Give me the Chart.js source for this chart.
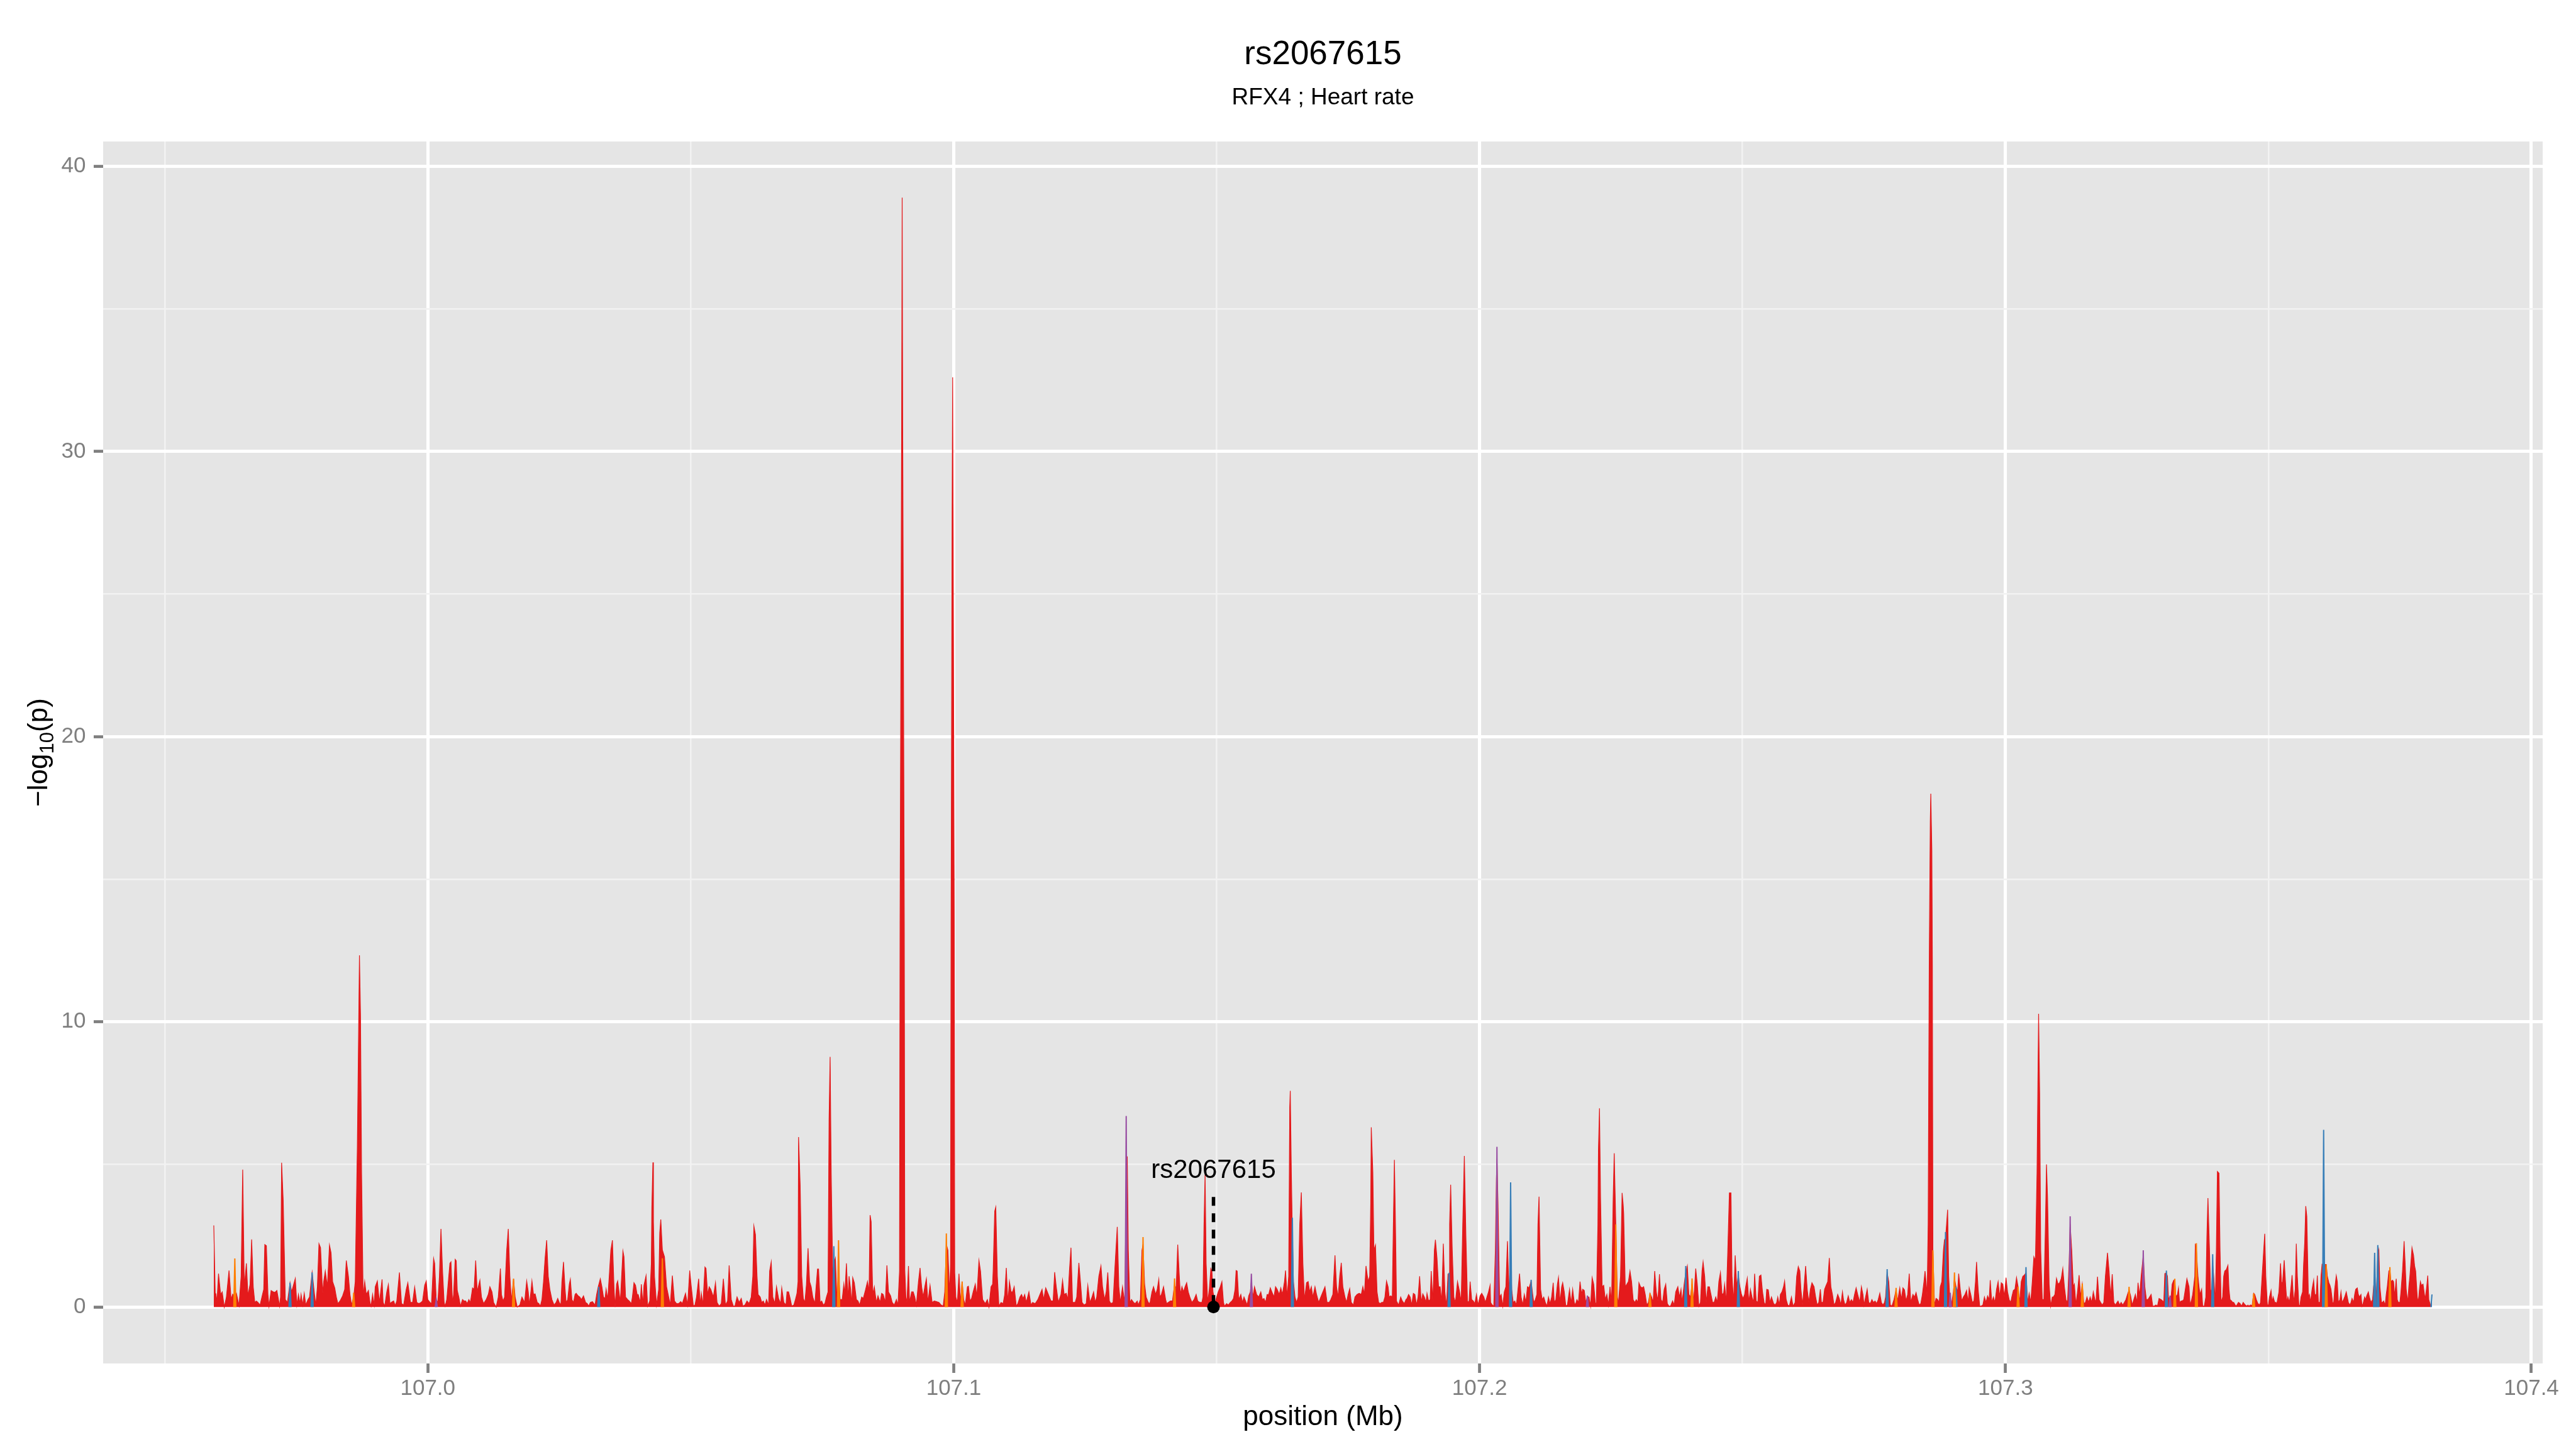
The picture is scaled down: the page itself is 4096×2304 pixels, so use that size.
<!DOCTYPE html>
<html>
<head>
<meta charset="utf-8">
<title>rs2067615 - RFX4 ; Heart rate</title>
<script src="https://cdn.jsdelivr.net/npm/chart.js@4.4.1/dist/chart.umd.min.js"></script>
<style>
  html, body { margin: 0; padding: 0; background: #ffffff; }
  canvas { display: block; }
</style>
</head>
<body>
<canvas id="chart" width="4096" height="2304"></canvas>
<script>
// -log10(p) by position (Mb), one block per stretch of the region
const regionA = [
[106.9593,2.86],[106.9596,0.26],[106.9597,0.48],[106.9599,0.16],[106.9602,1.17],[106.9606,0.44],[106.9609,0.53],[106.9613,0],[106.9617,0.35],[106.9622,1.28],
[106.9626,0.26],[106.9629,0.45],[106.9633,0.35],[106.9636,0.48],[106.9641,0.05],[106.9645,1.08],[106.9648,4.82],[106.9651,0.71],[106.9655,1.53],[106.9658,0.39],
[106.9662,0.8],[106.9665,2.37],[106.9668,0.71],[106.9671,0.16],[106.9674,0.21],[106.9677,0.16],[106.9681,0.07],[106.9685,0.39],[106.9688,0.62],[106.969,2.19],
[106.9693,2.15],[106.9696,0.44],[106.9698,0.03],[106.9702,0.58],[106.9706,0.53],[106.9709,0.51],[106.9713,0.58],[106.9716,0.26],[106.9718,0.03],[106.972,0.35],
[106.9722,5.06],[106.9725,3.73],[106.9729,0.26],[106.9733,0.16],[106.9738,0.85],[106.9741,0.53],[106.9745,0.8],[106.9748,1.0],[106.9751,0.07],[106.9754,0.44],
[106.9757,0.12],[106.9759,0.44],[106.9762,0.07],[106.9765,0.48],[106.9768,0.07],[106.9772,0.26],[106.9775,0.35],[106.978,1.21],[106.9784,0.53],[106.9787,0.05],
[106.979,0.71],[106.9793,2.22],[106.9796,2.08],[106.98,0.48],[106.9802,0.89],[106.9805,1.26],[106.9809,0.71],[106.9813,2.17],[106.9816,1.9],[106.9819,0.89],
[106.9823,0.67],[106.9826,0.35],[106.9829,0.12],[106.9833,0.21],[106.9838,0.39],[106.9842,0.62],[106.9845,1.63],[106.9849,1.08],[106.9852,0.44],[106.9855,0.07],
[106.9859,0.35],[106.9862,0.89],[106.9866,5.64],[106.9869,10.66],[106.987,12.33],[106.9872,10.21],[106.9874,4.73],[106.9877,0.35],[106.988,0.89],[106.9883,0.44],
[106.9887,0.58],[106.989,0.16],[106.9892,0.03],[106.9895,0.44],[106.9898,0.07],[106.99,0.71],[106.9904,0.91],[106.9908,0.16],[106.9913,0.97],[106.9915,0.16],
[106.9918,0.03],[106.9922,0.53],[106.9925,0.79],[106.9928,0.12],[106.9932,0.18],[106.9935,0.21],[106.9938,0.05],[106.9941,0.21],[106.9946,1.21],[106.995,0.12],
[106.9954,0.07],[106.9959,0.62],[106.9962,0.85],[106.9967,0.16],[106.9971,0.16],[106.9975,0.7],[106.9979,0.16],[106.9983,0.12],[106.9987,0.16],[106.999,0.21],
[106.9994,0.76],[106.9997,0.91],[107.0,0.26],[107.0004,0.16],[107.0007,0.12],[107.0011,1.7],[107.0013,1.53],[107.0016,0.26],[107.0019,0.16],[107.0022,1.07],
[107.0025,2.74],[107.0028,1.26],[107.0031,0.16],[107.0033,0.03],[107.0036,0.26],[107.0039,0.89],[107.0042,1.53],[107.0044,1.58],[107.0047,0.12],[107.0049,0.44],
[107.0052,1.67],[107.0054,1.62],[107.0056,0.58],[107.0059,0.35],[107.0062,0.03],[107.0066,0.26],[107.0069,0.21],[107.0072,0.21],[107.0075,0.12],[107.0078,0.26],
[107.0081,0.16],[107.0084,0.53],[107.0085,0.67],[107.0088,0.62],[107.0091,1.63],[107.0094,0.53],[107.0096,0.71],[107.0099,0.94],[107.0102,0.35],[107.0106,0.12],
[107.0111,0.26],[107.0115,0.44],[107.0118,0.71],[107.0122,0.53],[107.0125,0.16],[107.013,0],[107.0134,0.35],[107.0138,1.35],[107.014,0.44],[107.0143,0.21],
[107.0146,0.35],[107.015,1.99],[107.0153,2.74],[107.0156,1.08],[107.0159,0.21],[107.0163,0.99],[107.0166,0.35],[107.017,0],[107.0175,0.07],[107.0179,0.35],
[107.0184,0.16],[107.0188,0.91],[107.0191,0.53],[107.0193,0.07],[107.0196,0.53],[107.0198,0.91],[107.0201,0.44],[107.0204,0.46],[107.0208,0.16],[107.0211,0.12],
[107.0214,0.03],[107.0217,0.26],[107.022,0.89],[107.0223,1.72],[107.0226,2.34],[107.0229,1.08],[107.0232,0.62],[107.0236,0.26],[107.024,0.07],[107.0244,0.16],
[107.0247,0.3],[107.025,0.16],[107.0253,0.07],[107.0255,0.89],[107.0258,1.58],[107.0261,0.62],[107.0263,0.16],[107.0266,0.26],[107.0269,0.8],[107.0271,0.97],
[107.0274,0.26],[107.0277,0.16],[107.028,0.44],[107.0282,0.48],[107.0286,0.39],[107.0289,0.35],[107.0292,0.26],[107.0296,0.39],[107.03,0.16],[107.0303,0.12],
[107.0306,0.03]
];

const regionB = [
[107.0309,0.16],[107.0313,0.19],[107.0318,0.07],[107.0321,0.44],[107.0324,0.71],[107.0328,0.99],[107.0331,0.71],[107.0334,0.35],[107.0337,0.3],[107.0339,0.62],
[107.0342,0.26],[107.0345,1.08],[107.0348,1.99],[107.0351,2.34],[107.0354,0.71],[107.0356,0],[107.0359,0.8],[107.0361,0.91],[107.0363,0.62],[107.0366,0.16],
[107.0371,1.96],[107.0373,1.76],[107.0376,0.35],[107.038,0.26],[107.0383,0.21],[107.0387,0.12],[107.0389,0.35],[107.0392,0.85],[107.0395,0.76],[107.0398,0.44],
[107.04,0.44],[107.0404,0.16],[107.0406,0.8],[107.0409,0.07],[107.0411,0.76],[107.0415,1.1],[107.0418,0.03],[107.0422,0.21],[107.0425,1.53],[107.0426,3.5],
[107.0428,5.07],[107.0429,3.0],[107.0431,1.08],[107.0435,0.07],[107.0439,0.62],[107.0441,2.6],[107.0443,3.07],[107.0446,2.0],[107.045,1.76],[107.0454,0.71],
[107.0458,0.35],[107.0461,0.07],[107.0465,1.1],[107.0469,0.21],[107.0473,0.12],[107.0477,0.12],[107.0481,0.19],[107.0484,0.12],[107.049,0.48],[107.0494,0.07],
[107.0498,1.28],[107.0501,0.71],[107.0505,0.03],[107.0508,0.07],[107.0511,0.35],[107.0515,0.99],[107.0518,0.07],[107.052,0.48],[107.0523,0.07],[107.0527,1.4],
[107.0529,1.35],[107.0532,0.44],[107.0535,0.71],[107.0538,0.62],[107.0543,0.35],[107.0547,0.85],[107.055,0.16],[107.0554,0.03],[107.0558,0.12],[107.0562,0.99],
[107.0566,0.07],[107.057,0.21],[107.0573,1.46],[107.0577,0.26],[107.0581,0.03],[107.0584,0.03],[107.0588,0.35],[107.0592,0.16],[107.0596,0.3],[107.0599,0.03],
[107.0603,0.07],[107.0607,0.21],[107.0611,0.12],[107.0615,0.35],[107.0618,1.08],[107.062,2.84],[107.0623,2.54],[107.0626,1.08],[107.0628,0.44],[107.0632,0.35],
[107.0635,0.16],[107.0638,0.21],[107.0641,0.07],[107.0644,0.26],[107.0648,0.07],[107.065,1.26],[107.0653,1.58],[107.0656,0.35],[107.066,0.12],[107.0663,0.71],
[107.0667,0.3],[107.0671,0.12],[107.0673,0.67],[107.0677,0.16],[107.0681,0.07],[107.0683,0.53],[107.0686,0.53],[107.0689,0.3],[107.0692,0.03],[107.0696,0.07],
[107.0699,0.26],[107.0702,0.48],[107.0704,0.89],[107.0705,5.96],[107.0708,4.28],[107.0711,1.08],[107.0714,0.3],[107.0717,0.16],[107.072,0.8],[107.0723,2.06],
[107.0726,0.89],[107.0729,0.71],[107.0732,0.35],[107.0736,0.12],[107.0738,0.62],[107.0741,1.33],[107.0743,1.33],[107.0746,0.16],[107.0749,0.21],[107.0752,0.07],
[107.0755,0.12],[107.0758,0.35],[107.0761,0.53],[107.0763,6.56],[107.0765,8.77],[107.0767,4.73],[107.077,1.08],[107.0772,1.5],[107.0775,1.71],[107.0778,0.26],
[107.0781,1.2],[107.0784,0.26],[107.0788,0.26],[107.0791,0.8],[107.0793,0.44],[107.0796,1.53],[107.0799,0.26],[107.0801,1.08],[107.0804,0.62],[107.0806,0.03],
[107.0808,1.03],[107.0811,0.85],[107.0815,0.26],[107.0818,0.21],[107.0821,0.07],[107.0825,0.35],[107.0828,0.3],[107.0832,0.58],[107.0836,0.89],[107.0839,0.53],
[107.0841,3.22],[107.0843,2.99],[107.0846,0.44],[107.0849,0.71],[107.0853,0.16],[107.0856,0.39],[107.086,0.16],[107.0863,0.48],[107.0866,0.44],[107.087,0.16],
[107.0873,1.46],[107.0876,0.53],[107.088,0.39],[107.0883,0.16],[107.0887,0.07],[107.0891,0.26],[107.0894,0.07],[107.0897,1.26],[107.0898,13.5],[107.0901,31],
[107.0902,38.9],[107.0903,31],[107.0906,13.5],[107.0907,1.3],[107.0909,0.35],[107.0911,0.16],[107.0914,1.44],[107.0916,0.16],[107.092,0.53],[107.0923,0.53],
[107.0926,0.35],[107.0929,0.07],[107.0933,0.89],[107.0936,1.37],[107.0939,0.71],[107.0942,0.35],[107.0945,0.71],[107.0948,0.99],[107.0951,0.16],[107.0955,0.76],
[107.0959,0.16],[107.0963,0.21],[107.0967,0.19],[107.0972,0.16],[107.0976,0.07],[107.098,0.03],[107.0983,0.53],[107.0986,2.2],[107.0989,1.99],[107.0992,0.44],
[107.0994,1.5],[107.0995,13.5],[107.0997,28],[107.0998,32.6],[107.0999,27],[107.1001,13.5],[107.1002,1.2],[107.1004,0.35],[107.1007,0.16],[107.101,1.17],
[107.1013,0.16],[107.1016,0.89],[107.1019,0.26],[107.1022,0.07],[107.1026,0.71],[107.1028,0.73],[107.1031,0.21],[107.1034,0.3],[107.1037,0.53],[107.1041,0.8],
[107.1044,0.35],[107.1048,1.63],[107.1051,1.26],[107.1055,0.26],[107.106,0.12],[107.1064,0.26],[107.1067,0],[107.1071,0.71],[107.1074,0.8]
];

const regionC = [
[107.1075,1.26],[107.1078,3.36],[107.108,3.5],[107.1083,1.08],[107.1086,0.03],[107.109,0.16],[107.1094,0.12],[107.1097,0.44],[107.11,1.37],[107.1103,0.16],
[107.1106,0.89],[107.1109,0.53],[107.1112,0.53],[107.1115,0.71],[107.1119,0.03],[107.1122,0.12],[107.1126,0.35],[107.1129,0.44],[107.1132,0.3],[107.1135,0.44],
[107.1138,0.16],[107.1143,0.53],[107.1147,0.07],[107.115,0.16],[107.1155,0.12],[107.116,0.26],[107.1164,0.44],[107.1168,0.62],[107.1171,0.26],[107.1175,0.67],
[107.118,0.44],[107.1185,0.21],[107.1189,0.21],[107.1192,1.22],[107.1195,0.71],[107.1199,0.16],[107.1204,0.44],[107.1207,0.94],[107.121,0.44],[107.1214,0.48],
[107.1217,0.26],[107.122,1.26],[107.1223,2.08],[107.1226,0.16],[107.1231,0.16],[107.1234,0.35],[107.1238,1.55],[107.1241,0.89],[107.1244,0.16],[107.1248,0.07],
[107.1252,0.12],[107.1255,0.76],[107.1259,0.16],[107.1263,0.35],[107.1266,0.53],[107.1269,0.16],[107.1272,0.35],[107.1276,1.08],[107.128,1.44],[107.1283,0.71],
[107.1287,0.26],[107.129,0.53],[107.1293,1.21],[107.1296,0.21],[107.1299,0.12],[107.1303,0.16],[107.1307,1.53],[107.1311,2.81],[107.1314,0.71],[107.1317,0.16],
[107.1321,0.71],[107.1325,0.16],[107.1326,1.0],[107.1328,4.8],[107.133,5.28],[107.1332,1.99],[107.1335,0.16],[107.1338,0.26],[107.1342,0.16],[107.1345,0.12],
[107.1349,0.21],[107.1351,0.07],[107.1355,0.26],[107.1358,1.99],[107.136,2.2],[107.1363,0.8],[107.1366,0.35],[107.137,0.16],[107.1373,0.12],[107.1377,0.53],
[107.138,0.71],[107.1384,0.44],[107.1387,0.62],[107.139,0.97],[107.1392,0.35],[107.1395,0.44],[107.1399,0.71],[107.1403,0.26],[107.1405,0.12],[107.1408,0.16],
[107.1412,0.21],[107.1416,0.21],[107.142,0.8],[107.1423,0.62],[107.1426,2.19],[107.1429,1.08],[107.1431,0.44],[107.1434,0.71],[107.1437,0.53],[107.144,0.71],
[107.1443,0.85],[107.1446,0.53],[107.1449,0.35],[107.1453,0.16],[107.1457,0.26],[107.1461,0.44],[107.1464,0.21],[107.1468,0.16],[107.1472,0.16],[107.1474,0.35],
[107.1476,2.9],[107.1478,4.64],[107.148,1.53],[107.1483,0.16],[107.1486,0.62],[107.1489,1.35],[107.1491,1.26],[107.1493,0.53],[107.1497,0.16],[107.15,0.35],
[107.1503,0.53],[107.1507,0.71],[107.151,0.89],[107.1513,0.16],[107.1515,0.03],[107.1519,0.12],[107.1522,0.07],[107.1526,0.16],[107.1529,0.21],[107.1532,0.3],
[107.1535,0.62],[107.1537,1.28],[107.1539,1.26],[107.1542,0.26],[107.1546,0.44],[107.1549,0.16],[107.1552,0.35],[107.1554,0.26],[107.1558,0.07],[107.1561,0.39],
[107.1564,0.53],[107.1566,0.9],[107.1569,0.35],[107.1572,0.71],[107.1576,0.44],[107.158,0.35],[107.1584,0.53],[107.1587,0.26],[107.159,0.3],[107.1593,0.16],
[107.1596,0.44],[107.1599,0.44],[107.1602,0.67],[107.1605,0.53],[107.1609,0.35],[107.1612,0.71],[107.1615,0.62],[107.1619,0.44],[107.1622,0.67],[107.1625,0.44],
[107.1629,0.89],[107.1631,1.28],[107.1634,0.35],[107.1637,1.08],[107.1639,7.0],[107.164,7.58],[107.1642,4.73],[107.1644,2.5],[107.1646,0.89],[107.1649,0.35],
[107.1652,0.16],[107.1655,0.35],[107.1658,2.9],[107.1661,4.02],[107.1664,1.53],[107.1667,0.26],[107.1671,0.85],[107.1674,0.89],[107.1677,0.53],[107.168,0.71],
[107.1683,0.35],[107.1687,0.71],[107.169,0.44],[107.1694,0.16],[107.1698,0.35],[107.1702,0.53],[107.1706,0.71],[107.171,0.16],[107.1714,0.16],[107.1717,0.26],
[107.1721,0.44],[107.1725,1.81],[107.1728,0.71],[107.1731,0.35],[107.1734,1.08],[107.1737,1.55],[107.174,0.71],[107.1744,0.35],[107.1747,0.16],[107.175,0.44],
[107.1753,0.64],[107.1756,0.16],[107.176,0.07],[107.1763,0.35],[107.1767,0.44],[107.1771,0.48],[107.1775,0.44],[107.1778,0.71],[107.1781,0.44],[107.1784,1.44],
[107.1788,0.89],[107.1791,1.08],[107.1793,3.64],[107.1794,6.3],[107.1797,4.73],[107.1799,1.99],[107.1802,2.17]
];

const regionD = [
[107.1805,0.53],[107.1808,0.16],[107.1811,0.12],[107.1814,0.16],[107.1817,0.16],[107.182,0.35],[107.1823,0.91],[107.1826,0.71],[107.1828,0.35],[107.1831,0.39],
[107.1834,0.35],[107.1836,2.9],[107.1838,5.16],[107.184,2.9],[107.1842,0.21],[107.1846,0.07],[107.185,0.35],[107.1853,0.21],[107.1857,0.12],[107.186,0.26],
[107.1862,0.3],[107.1865,0.44],[107.1868,0.35],[107.1871,0.07],[107.1874,0.48],[107.1877,0.44],[107.188,0.07],[107.1883,0.35],[107.1886,1.08],[107.1889,0.16],
[107.1892,0.46],[107.1895,0.35],[107.1898,0.16],[107.19,0.48],[107.1903,0.21],[107.1906,0.26],[107.1908,1.26],[107.1911,0.16],[107.1914,1.99],[107.1916,2.36],
[107.1919,1.72],[107.1922,0.71],[107.1925,0.71],[107.1928,0.16],[107.1931,2.22],[107.1934,0.53],[107.1937,0.03],[107.194,1.17],[107.1942,0.9],[107.1943,2.9],
[107.1945,4.29],[107.1948,1.99],[107.1951,0.35],[107.1954,0.16],[107.1958,0.89],[107.1962,0.53],[107.1965,0.16],[107.1968,2.9],[107.1971,5.3],[107.1974,2.45],
[107.1977,0.16],[107.198,0.21],[107.1982,0.89],[107.1985,0.26],[107.1988,0.21],[107.1991,0.12],[107.1994,0.44],[107.1997,0.07],[107.2001,0.39],[107.2004,0.48],
[107.2008,0.35],[107.2011,0.16],[107.2014,0.35],[107.2017,0.53],[107.202,0.76],[107.2021,0.16],[107.2024,0.07],[107.2027,0.03],[107.203,1.99],[107.2032,4.5],
[107.2033,5.2],[107.2035,3.63],[107.2038,0.35],[107.2041,0.44],[107.2044,0.03],[107.2047,0.53],[107.205,0.71],[107.2053,2.31],[107.2056,0.44],[107.2059,2.0],
[107.2061,0.62],[107.2064,0.16],[107.2067,0.21],[107.207,0.07],[107.2073,0.62],[107.2076,1.17],[107.2079,0.35],[107.2082,0.07],[107.2085,0.44],[107.2088,0.16],
[107.2091,0.71],[107.2094,0.67],[107.2098,0.91],[107.2101,0.44],[107.2103,0.16],[107.2106,0.26],[107.2109,0.44],[107.2111,2.9],[107.2113,3.87],[107.2116,0.62],
[107.2119,0.26],[107.2122,0.35],[107.2125,0.16],[107.2128,0.03],[107.2131,0.35],[107.2134,0.12],[107.2137,0.35],[107.214,0.85],[107.2142,0.16],[107.2145,0.26],
[107.2148,0.8],[107.215,1.03],[107.2153,0.16],[107.2156,0.71],[107.2158,0.85],[107.2161,0.53],[107.2164,0.03],[107.2167,0.07],[107.2171,0.62],[107.2174,0.12],
[107.2177,0.62],[107.218,0.16],[107.2182,0.07],[107.2185,0.26],[107.2188,0.16],[107.2191,0.89],[107.2194,0.44],[107.2196,0.62],[107.2199,0.58],[107.2202,0.16],
[107.2205,0.35],[107.2208,0.35],[107.2211,0.03],[107.2214,1.03],[107.2217,0.8],[107.222,0.16],[107.2222,0.07],[107.2225,2.9],[107.2226,5.5],[107.2228,6.97],
[107.223,3.81],[107.2233,0.71],[107.2236,0.76],[107.2239,0.26],[107.2242,0.44],[107.2245,0.07],[107.2248,0.71],[107.2251,0.16],[107.2254,3.81],[107.2256,5.39],
[107.2259,2.9],[107.2262,0.35],[107.2264,0.12],[107.2268,1.08],[107.2271,4.0],[107.2273,3.6],[107.2274,3.27],[107.2277,0.71],[107.228,0.8],[107.2283,0.89],
[107.2286,1.26],[107.2289,0.89],[107.2292,0.26],[107.2295,0.16],[107.2298,0.26],[107.2301,0.16],[107.2303,0.85],[107.2306,0.71],[107.2309,0.67],[107.2312,0.71],
[107.2315,0.44],[107.2318,0.07],[107.2321,0.16],[107.2324,0.48],[107.2327,0.35],[107.233,0.16],[107.2333,1.26],[107.2336,0.53],[107.2339,0.21],[107.2342,1.15],
[107.2345,0.26],[107.2348,0.16],[107.2351,0.62],[107.2354,0.8],[107.2357,0.12],[107.236,0.03],[107.2363,0.03],[107.2367,0.21],[107.237,0.07],[107.2373,0.53],
[107.2377,0.71],[107.238,0.35],[107.2383,0.62],[107.2385,0.16],[107.2389,0.8],[107.2392,1.2],[107.2395,1.44],[107.2398,0.44],[107.2401,0.35],[107.2404,0.8],
[107.2407,0.16],[107.2411,1.35],[107.2414,0.8],[107.2417,0.03],[107.242,0.16],[107.2423,1.26],[107.2425,1.58],[107.2428,1.08],[107.2431,0.16],[107.2434,0.71],
[107.2437,0.71],[107.244,0.44],[107.2443,0.16],[107.2446,0.16],[107.2449,0.35],[107.2452,0.16],[107.2455,0.89],[107.2458,1.21],[107.2461,0.44],[107.2464,0.48],
[107.2466,0.8],[107.2469,0.16],[107.2472,1.99],[107.2475,4.0],[107.2478,4.0],[107.248,1.08],[107.2483,0.16],[107.2486,1.81],[107.2489,0.71],[107.2492,1.1],
[107.2495,0.71],[107.2498,0.44],[107.2501,0.3],[107.2504,0.44],[107.2506,0.71],[107.2509,1.01],[107.2512,0.16],[107.2515,0.62],[107.2518,0.35],[107.2521,0.16],
[107.2523,1.17],[107.2526,0.21],[107.2529,0.16],[107.2532,1.08],[107.2535,1.12],[107.2538,0.53],[107.2541,0.16]
];

const regionE = [
[107.2544,0.07],[107.2546,0.62],[107.2549,0.6],[107.2552,0.16],[107.2555,0.35],[107.2559,0.12],[107.2562,0.07],[107.2565,0.16],[107.2567,0.35],[107.257,0.07],
[107.2572,0.44],[107.2575,0.53],[107.2578,0.71],[107.258,0.91],[107.2583,0.26],[107.2586,0.07],[107.2589,0.03],[107.2593,0.35],[107.2596,0.03],[107.26,0.16],
[107.2603,1.08],[107.2606,1.42],[107.2609,1.26],[107.2611,0.62],[107.2614,0.07],[107.2617,0.71],[107.262,1.44],[107.2623,0.62],[107.2626,0.16],[107.2629,0.62],
[107.2632,0.85],[107.2636,0.71],[107.2639,0.35],[107.2642,0.07],[107.2645,0.16],[107.2648,0.62],[107.265,0.16],[107.2653,0.16],[107.2656,0.62],[107.2659,0.76],
[107.2662,0.89],[107.2665,1.72],[107.2668,0.71],[107.2671,0.44],[107.2674,0.07],[107.2677,0.16],[107.2681,0.44],[107.2684,0.3],[107.2687,0.07],[107.269,0.53],
[107.2692,0.26],[107.2695,0.07],[107.2698,0.16],[107.2701,0.39],[107.2704,0.16],[107.2707,0.26],[107.271,0.16],[107.2713,0.44],[107.2716,0.67],[107.2719,0.44],
[107.2723,0.16],[107.2726,0.71],[107.2729,0.44],[107.2731,0.07],[107.2734,0.35],[107.2737,0.62],[107.274,0.16],[107.2743,0.12],[107.2746,0.26],[107.2749,0.16],
[107.2752,0.21],[107.2755,0.12],[107.2758,0.26],[107.2761,0.48],[107.2764,0.16],[107.2767,0.07],[107.277,0.16],[107.2772,0.35],[107.2775,1.2],[107.2778,0.89],
[107.2781,0.07],[107.2784,0.03],[107.2788,0.26],[107.2792,0.6],[107.2795,0.21],[107.2799,0.67],[107.2802,0.26],[107.2805,0.67],[107.2808,0.6],[107.2811,0.21],
[107.2814,0.44],[107.2817,1.17],[107.282,0.16],[107.2824,0.44],[107.2827,0.35],[107.283,0.51],[107.2833,0.26],[107.2836,0.07],[107.2839,0.12],[107.2842,0.44],
[107.2845,0.89],[107.2847,1.26],[107.2849,0.89],[107.2851,0.35],[107.2853,2.9],[107.2855,12],[107.2857,17],[107.2858,18.0],[107.286,16],[107.2861,12],
[107.2862,2.0],[107.2865,0.07],[107.2868,0.3],[107.2871,0.26],[107.2874,0.16],[107.2876,0.71],[107.2879,0.89],[107.2882,1.99],[107.2884,2.36],[107.2886,2.4],
[107.2888,2.9],[107.289,3.41],[107.2892,1.08],[107.2895,0.03],[107.2898,0.16],[107.2901,0.53],[107.2903,1.0],[107.2906,0.71],[107.2909,0.53],[107.2911,1.17],
[107.2914,0.62],[107.2917,0.21],[107.292,0.35],[107.2923,0.44],[107.2926,0.58],[107.2929,0.16],[107.2931,0.67],[107.2934,0.44],[107.2937,0.16],[107.294,0.21],
[107.2943,0.89],[107.2945,1.58],[107.2948,0.62],[107.2951,0.03],[107.2954,0.03],[107.2957,0.07],[107.296,0.35],[107.2963,0.16],[107.2966,0.39],[107.2969,0.26],
[107.2971,0.94],[107.2974,0.16],[107.2977,0.35],[107.298,0.16],[107.2983,0.62],[107.2986,0.89],[107.2989,0.35],[107.2992,0.85],[107.2995,0.8],[107.2998,0.35],
[107.3001,1.03],[107.3004,0.53],[107.3007,0.26],[107.301,0.16],[107.3012,0.35],[107.3015,0.58],[107.3018,0.62],[107.3021,1.03],[107.3024,0.71],[107.3027,0.16],
[107.303,0.89],[107.3033,1.08],[107.3036,1.12],[107.3039,1.2],[107.3042,0.16],[107.3045,0.48],[107.3048,0.16],[107.3051,0.89],[107.3054,1.76],[107.3057,1.63],
[107.306,4.7],[107.3062,8.5],[107.3063,10.28],[107.3065,7.47],[107.3067,1.99],[107.307,0.26],[107.3073,0.26],[107.3076,2.9],[107.3078,5.0],[107.308,3.82],
[107.3083,0.8],[107.3086,0.03],[107.3089,0.35],[107.3091,0.35],[107.3094,0.44],[107.3097,1.0],[107.31,0.8],[107.3103,0.85],[107.3106,0.99],[107.3109,1.35],
[107.3112,0.71],[107.3115,0.26],[107.3118,0.16],[107.3121,1.53],[107.3123,2.9],[107.3126,1.99],[107.3129,0.71],[107.3131,0.8],[107.3134,0.07],[107.3137,0.53],
[107.314,1.12],[107.3143,0.35],[107.3146,0.8],[107.3149,0.12],[107.3152,0.16],[107.3155,0.35],[107.3158,0.16],[107.3161,0.35],[107.3164,0.16],[107.3167,0.53],
[107.317,0.26],[107.3172,0.16],[107.3175,1.06],[107.3178,0.26],[107.3181,0.16],[107.3184,0.07],[107.3187,0.16],[107.319,1.08],[107.3194,1.9],[107.3197,1.26],
[107.32,0.35],[107.3203,1.15],[107.3206,0.16],[107.3209,0.07],[107.3212,0.16],[107.3214,0.21],[107.3217,0.07],[107.322,0.16],[107.3223,0.07],[107.3226,0.16],
[107.3229,0.26],[107.3232,0.44],[107.3235,0.6],[107.3238,0.39],[107.3241,0.07],[107.3244,0.26],[107.3247,0.44],[107.325,0.16],[107.3252,0.85],[107.3255,0.39],
[107.3258,1.08],[107.3262,1.8],[107.3265,0.71],[107.3268,0.26],[107.3271,0.26],[107.3274,0.35],[107.3277,0.44]
];

const regionF = [
[107.328,0.03],[107.3283,0.03],[107.3286,0.07],[107.3289,0.03],[107.3292,0.3],[107.3296,0.26],[107.3299,0.21],[107.3301,0.16],[107.3303,1.17],[107.3306,1.2],
[107.3308,1.08],[107.331,0.3],[107.3313,0.35],[107.3315,0.39],[107.3317,0.8],[107.332,0.94],[107.3322,0.9],[107.3324,0.35],[107.3327,0.44],[107.3329,0.67],
[107.3331,0.16],[107.3334,0.21],[107.3336,0.21],[107.3339,0.26],[107.3342,0.62],[107.3345,0.99],[107.3349,0.71],[107.3351,0.07],[107.3354,0.26],[107.3356,0.44],
[107.336,1.08],[107.3361,2.22],[107.3363,2.0],[107.3366,1.08],[107.3368,0.71],[107.337,0.44],[107.3373,0.62],[107.3375,0.03],[107.3378,0.03],[107.3381,0.35],
[107.3383,2.45],[107.3385,3.82],[107.3388,1.99],[107.339,0.62],[107.3392,0.44],[107.3394,1.5],[107.3396,1.08],[107.3399,0.16],[107.3401,1.99],[107.3403,4.75],
[107.3406,4.69],[107.3408,1.99],[107.341,0.16],[107.3413,0.35],[107.3415,1.08],[107.3417,1.26],[107.342,1.31],[107.3423,1.46],[107.3425,0.62],[107.3427,0.26],
[107.343,0.21],[107.3432,0.16],[107.3434,0.16],[107.3438,0.03],[107.344,0.07],[107.3443,0.16],[107.3446,0.12],[107.3449,0.03],[107.3452,0.16],[107.3456,0.07],
[107.3459,0.03],[107.3461,0.07],[107.3463,0.03],[107.3466,0.07],[107.3469,0.05],[107.3472,0.48],[107.3474,0.44],[107.3477,0.26],[107.348,0.12],[107.3483,0.07],
[107.3485,0.16],[107.3488,1.08],[107.3491,1.99],[107.3493,2.57],[107.3495,1.08],[107.3498,0.07],[107.35,0.07],[107.3502,0.35],[107.3505,0.58],[107.3507,0.16],
[107.3509,0.35],[107.3512,0.16],[107.3514,0.16],[107.3516,0.12],[107.352,0.53],[107.3523,1.53],[107.3525,0.8],[107.3527,0.89],[107.353,1.64],[107.3533,0.71],
[107.3535,0.16],[107.3537,0.35],[107.354,0.16],[107.3543,0.71],[107.3545,1.12],[107.3548,0.16],[107.3551,0.62],[107.3553,2.22],[107.3555,1.08],[107.3558,0.03],
[107.356,0.07],[107.3562,0.35],[107.3565,0.53],[107.3567,1.53],[107.3569,2.26],[107.3571,3.54],[107.3573,3.18],[107.3576,0.35],[107.3578,0.44],[107.358,0.16],
[107.3583,0.62],[107.3586,0.94],[107.3588,0.44],[107.3591,0.44],[107.3593,1.1],[107.3595,0.16],[107.3598,0.16],[107.36,1.08],[107.3602,1.5],[107.3604,1.5],
[107.3605,1.2],[107.3608,1.49],[107.361,1.49],[107.3612,1.08],[107.3615,0.85],[107.3617,0.76],[107.3619,0.62],[107.3622,0.16],[107.3624,0.12],[107.3626,0.62],
[107.3629,1.1],[107.3631,0.89],[107.3633,0.16],[107.3636,0.26],[107.3638,0.53],[107.364,0.16],[107.3643,0.26],[107.3645,0.35],[107.3648,0.53],[107.365,0.35],
[107.3652,0.16],[107.3655,0.07],[107.3657,0.16],[107.3659,0.3],[107.3662,0.16],[107.3664,0.44],[107.3666,0.62],[107.3669,0.67],[107.3671,0.44],[107.3673,0.35],
[107.3676,0.44],[107.3678,0.03],[107.368,0.12],[107.3683,0.35],[107.3685,0.26],[107.3687,0.4],[107.369,0.53],[107.3692,0.35],[107.3695,0.16],[107.3698,0.26],
[107.37,0.71],[107.3702,1.0],[107.3705,0.35],[107.3708,1.8],[107.371,1.99],[107.3712,0.71],[107.3715,0.16],[107.3717,0.16],[107.3719,0.21],[107.3722,0.07],
[107.3724,0.44],[107.3726,0.71],[107.3729,1.26],[107.3731,1.3],[107.3733,0.89],[107.3736,0.94],[107.3738,0.89],[107.374,0.35],[107.3743,0.99],[107.3745,0.26],
[107.3747,0.16],[107.375,0.16],[107.3752,0.53],[107.3755,1.26],[107.3758,2.31],[107.376,1.53],[107.3762,0.62],[107.3765,0.16],[107.3767,0.71],[107.3769,1.08],
[107.3772,1.81],[107.3773,2.08],[107.3776,1.81],[107.3778,1.44],[107.378,1.26],[107.3783,0.35],[107.3785,0.16],[107.3787,0.58],[107.3789,0.89],[107.3791,0.76],
[107.3794,0.8],[107.3796,0.53],[107.3798,0.26],[107.3801,0.71],[107.3803,1.1],[107.3805,0.26],[107.3808,0.07],[107.3809,0]
];

// SNPs of the other colour groups that poke out of the red area
const bluePos = [106.9736,106.9738,106.974, 106.9778,106.978,106.9782, 107.0323,107.0325,107.0327, 107.077,107.0772,107.0774,
  107.1642,107.1644,107.1646, 107.194,107.1942,107.1944, 107.2057,107.2059,107.2061, 107.2096,107.2098,107.21,
  107.239,107.2392,107.2394, 107.249,107.2492,107.2494, 107.2773,107.2775,107.2777, 107.2884,107.2886,107.2888,
  107.2904,107.2906,107.2908, 107.3037,107.3039,107.3041, 107.3304,107.3306,107.3308, 107.3392,107.3394,107.3396,
  107.3603,107.3605,107.3607, 107.37,107.3702,107.3704, 107.3706,107.3708,107.371, 107.3809,107.3811];
const blueLogP = [0,0.85,0, 0,1.21,0, 0,0.71,0, 0,2.13,0,
  0,3.13,0, 0,1.2,0, 0,4.37,0, 0,0.95,0,
  0,1.44,0, 0,1.26,0, 0,1.33,0, 0,2.63,0,
  0,0.71,0, 0,1.4,0, 0,1.28,0, 0,1.85,0,
  0,6.21,0, 0,1.9,0, 0,2.17,0, 0,0.44];

const orangePos = [106.9631,106.9633,106.9635, 106.9857,106.9859,106.9861, 107.0161,107.0163,107.0165, 107.0444,107.0446,107.0448,
  107.0779,107.0781,107.0783, 107.0984,107.0986,107.0988, 107.1014,107.1016,107.1018, 107.1358,107.136,107.1362,
  107.1418,107.142,107.1422, 107.2257,107.2259,107.2261, 107.2322,107.2324,107.2326, 107.2402,107.2404,107.2406,
  107.279,107.2792,107.2794, 107.286,107.2862,107.2864, 107.2901,107.2903,107.2905, 107.3022,107.3024,107.3026,
  107.3144,107.3146,107.3148, 107.3233,107.3235,107.3237, 107.332,107.3322,107.3324, 107.3361,107.3363,107.3365,
  107.347,107.3472,107.3474, 107.3608,107.361,107.3612, 107.3729,107.3731,107.3733];
const orangeLogP = [0,1.7,0, 0,0.5,0, 0,0.99,0, 0,1.71,0,
  0,2.34,0, 0,2.58,0, 0,0.89,0, 0,2.45,0,
  0,1.0,0, 0,2.9,0, 0,0.48,0, 0,1.0,0,
  0,0.67,0, 0,1.99,0, 0,1.21,0, 0,0.71,0,
  0,0.82,0, 0,0.71,0, 0,0.99,0, 0,2.24,0,
  0,0.48,0, 0,1.49,0, 0,1.4,0];

const purplePos = [107.0014,107.0016,107.0018, 107.1326,107.1328,107.133, 107.1564,107.1566,107.1568,
  107.2031,107.2033,107.2035, 107.2203,107.2205,107.2207, 107.2893,107.2895,107.2897,
  107.3121,107.3123,107.3125, 107.326,107.3262,107.3264, 107.3311,107.3313,107.3315];
const purpleLogP = [0,0.26,0, 0,6.7,0, 0,1.17,0,
  0,5.62,0, 0,0.4,0, 0,0.5,0,
  0,3.18,0, 0,1.99,0, 0,0.4,0];

// lead SNP marker
const leadSnp = "rs2067615";
const leadPos = 107.1494;
const leadLineTop = 3.86;
const leadLabelY = 4.53;

const plotTitle = "rs2067615";
const plotSubtitle = "RFX4 ; Heart rate";
const xTitle = "position (Mb)";

const xMajorTicks = [107.0, 107.1, 107.2, 107.3, 107.4];
const xMinorTicks = [106.95, 107.05, 107.15, 107.25, 107.35];
const yMajorTicks = [0, 10, 20, 30, 40];
const yMinorTicks = [5, 15, 25, 35];

const FONT = '"Liberation Sans", Arial, Helvetica, sans-serif';
Chart.defaults.font.family = FONT;

const isIn = (list, v) => list.some(t => Math.abs(t - v) < 1e-6);
const toXY = (pos, vals) => pos.map((p, i) => ({ x: p, y: vals[i] }));
const redData = [regionA, regionB, regionC, regionD, regionE, regionF].flat().map(([x, y]) => ({ x, y }));

const area = (label, data, color, order, width) => ({
    label, data, order,
    borderColor: color,
    backgroundColor: color,
    borderWidth: width,
    pointRadius: 0,
    tension: 0,
    fill: "origin"
});

// spikes only: no outline along the baseline between them
const spikes = (label, data, color, order) => Object.assign(area(label, data, color, order, 2), {
    segment: {
        borderColor: c => (c.p0.parsed.y === 0 && c.p1.parsed.y === 0) ? "rgba(0,0,0,0)" : color
    }
});

const panelBackground = {
    id: "panelBackground",
    beforeDraw(chart) {
        const { ctx, chartArea: a } = chart;
        ctx.save();
        ctx.fillStyle = "#FFFFFF";
        ctx.fillRect(0, 0, chart.width, chart.height);
        ctx.fillStyle = "#E5E5E5";
        ctx.fillRect(a.left, a.top, a.right - a.left, a.bottom - a.top);
        ctx.restore();
    }
};

const textLayer = {
    id: "textLayer",
    afterDraw(chart) {
        const { ctx, chartArea: a, scales } = chart;
        const cx = (a.left + a.right) / 2;
        ctx.save();
        ctx.fillStyle = "#000000";
        ctx.textAlign = "center";
        ctx.textBaseline = "alphabetic";

        ctx.font = `53px ${FONT}`;
        ctx.fillText(plotTitle, cx, 102);
        ctx.font = `37px ${FONT}`;
        ctx.fillText(plotSubtitle, cx, 166);
        ctx.font = `44px ${FONT}`;
        ctx.fillText(xTitle, cx, 2266);

        // lead SNP label
        ctx.font = `42px ${FONT}`;
        ctx.fillText(leadSnp, scales.x.getPixelForValue(leadPos), scales.y.getPixelForValue(leadLabelY));

        // y title: -log10(p) with subscript
        ctx.translate(75, (a.top + a.bottom) / 2);
        ctx.rotate(-Math.PI / 2);
        ctx.textAlign = "left";
        const big = `44px ${FONT}`, small = `31px ${FONT}`;
        ctx.font = big;
        const w1 = ctx.measureText("\u2212log").width;
        const w3 = ctx.measureText("(p)").width;
        ctx.font = small;
        const w2 = ctx.measureText("10").width;
        const x0 = -(w1 + w2 + w3) / 2;
        ctx.font = big;
        ctx.fillText("\u2212log", x0, 0);
        ctx.font = small;
        ctx.fillText("10", x0 + w1, 10);
        ctx.font = big;
        ctx.fillText("(p)", x0 + w1 + w2, 0);
        ctx.restore();
    }
};

const gridFor = (major) => ({
    color: c => isIn(major, c.tick.value) ? "#FFFFFF" : "#F2F2F2",
    lineWidth: c => isIn(major, c.tick.value) ? 5.1 : 2.6,
    tickColor: c => isIn(major, c.tick.value) ? "#7F7F7F" : "rgba(0,0,0,0)",
    tickWidth: 4.7,
    tickLength: 15,
    drawTicks: true
});

new Chart(document.getElementById("chart").getContext("2d"), {
    type: "line",
    data: {
        datasets: [
            {
                label: leadSnp,
                data: [{ x: leadPos, y: leadLineTop }, { x: leadPos, y: 0 }],
                order: 0,
                borderColor: "#000000",
                borderWidth: 5.5,
                borderDash: [14, 12],
                pointRadius: c => c.dataIndex === 1 ? 10 : 0,
                pointBackgroundColor: "#000000",
                pointBorderWidth: 0,
                fill: false
            },
            spikes("purple", toXY(purplePos, purpleLogP), "#984EA3", 1),
            spikes("orange", toXY(orangePos, orangeLogP), "#FF7F00", 2),
            spikes("blue", toXY(bluePos, blueLogP), "#377EB8", 3),
            area("red", redData, "#E41A1C", 10, 1.2)
        ]
    },
    options: {
        responsive: false,
        maintainAspectRatio: false,
        devicePixelRatio: 1,
        animation: false,
        events: [],
        layout: { padding: { top: 225, right: 53, bottom: 0, left: 0 } },
        plugins: {
            legend: { display: false },
            tooltip: { enabled: false },
            title: { display: false }
        },
        scales: {
            x: {
                type: "linear",
                bounds: "data",
                min: 106.93826,
                max: 107.40215,
                afterBuildTicks: s => {
                    s.ticks = xMinorTicks.concat(xMajorTicks).sort((p, q) => p - q).map(v => ({ value: v }));
                },
                afterFit: s => { s.height = 136; },
                grid: gridFor(xMajorTicks),
                border: { display: false },
                ticks: {
                    autoSkip: false,
                    maxRotation: 0,
                    padding: 4,
                    color: "#7F7F7F",
                    font: { size: 35, family: FONT },
                    callback: v => isIn(xMajorTicks, v) ? v.toFixed(1) : ""
                }
            },
            y: {
                type: "linear",
                bounds: "data",
                min: -1.98,
                max: 40.87,
                afterBuildTicks: s => {
                    s.ticks = yMinorTicks.concat(yMajorTicks).sort((p, q) => p - q).map(v => ({ value: v }));
                },
                afterFit: s => { s.width = 164; },
                grid: gridFor(yMajorTicks),
                border: { display: false },
                ticks: {
                    autoSkip: false,
                    padding: 12.5,
                    color: "#7F7F7F",
                    font: { size: 35, family: FONT },
                    callback: v => isIn(yMajorTicks, v) ? String(v) : ""
                }
            }
        }
    },
    plugins: [panelBackground, textLayer]
});
</script>
</body>
</html>
